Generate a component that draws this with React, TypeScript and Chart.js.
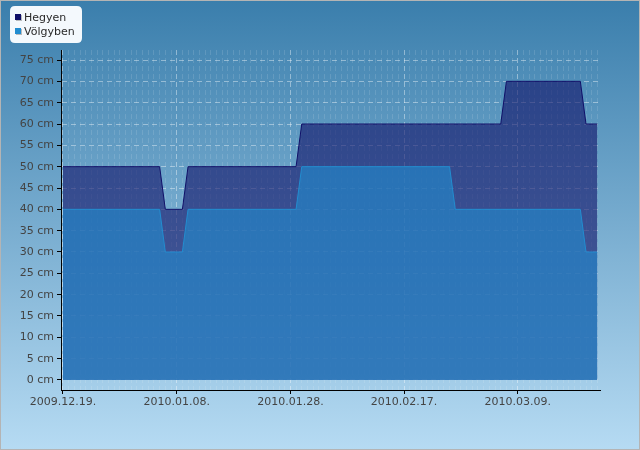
import { useEffect, useRef } from 'react';
import { Chart, registerables } from 'chart.js';

Chart.register(...registerables);

const START_DATE = '2009-12-19';
const seriesNames = ['Hegyen', 'Völgyben'];
const hegyenDates = ['2009-12-19', '2010-01-05', '2010-01-06', '2010-01-09', '2010-01-10', '2010-01-29', '2010-01-30', '2010-03-06', '2010-03-07', '2010-03-20', '2010-03-21', '2010-03-23'];
const hegyenValues = [50, 50, 40, 40, 50, 50, 60, 60, 70, 70, 60, 60];
const volgyDates = ['2009-12-19', '2010-01-05', '2010-01-06', '2010-01-09', '2010-01-10', '2010-01-29', '2010-01-30', '2010-02-25', '2010-02-26', '2010-03-20', '2010-03-21', '2010-03-23'];
const volgyValues = [40, 40, 30, 30, 40, 40, 50, 50, 40, 40, 30, 30];
const xTickLabels = ['2009.12.19.', '2010.01.08.', '2010.01.28.', '2010.02.17.', '2010.03.09.'];
const yTickValues = [0, 5, 10, 15, 20, 25, 30, 35, 40, 45, 50, 55, 60, 65, 70, 75];
const yUnit = 'cm';

const DAY = 86400000;
const dayOf = (d: string) => Math.round((Date.parse(d) - Date.parse(START_DATE)) / DAY);
const labelToDay = (l: string) => dayOf(l.slice(0, 10).replace(/\./g, '-'));
const majorDays = xTickLabels.map(labelToDay);
const lastDay = dayOf(hegyenDates[hegyenDates.length - 1]);

const HEGY_RGB = '16,16,104';
const VOLGY_RGB = '34,141,208';

const bgPlugin = {
  id: 'bgPlugin',
  beforeDraw(chart: any) {
    const { ctx, width, height } = chart;
    ctx.save();
    const g = ctx.createLinearGradient(0, 0, 0, height);
    g.addColorStop(0, '#3a7eac');
    g.addColorStop(1, '#b6dbf3');
    ctx.fillStyle = g;
    ctx.fillRect(0, 0, width, height);
    ctx.strokeStyle = '#b4b4b4';
    ctx.lineWidth = 1;
    ctx.strokeRect(0.5, 0.5, width - 1, height - 1);
    ctx.restore();
  },
  afterDraw(chart: any) {
    const { ctx } = chart;
    ctx.save();
    const x = 10, y = 6, w = 72, h = 37, r = 5;
    ctx.beginPath();
    ctx.moveTo(x + r, y);
    ctx.lineTo(x + w - r, y);
    ctx.quadraticCurveTo(x + w, y, x + w, y + r);
    ctx.lineTo(x + w, y + h - r);
    ctx.quadraticCurveTo(x + w, y + h, x + w - r, y + h);
    ctx.lineTo(x + r, y + h);
    ctx.quadraticCurveTo(x, y + h, x, y + h - r);
    ctx.lineTo(x, y + r);
    ctx.quadraticCurveTo(x, y, x + r, y);
    ctx.closePath();
    ctx.fillStyle = 'rgba(250,253,255,0.97)';
    ctx.fill();
    const colors = [`rgb(${HEGY_RGB})`, `rgb(${VOLGY_RGB})`];
    ctx.font = '11px "DejaVu Sans"';
    ctx.textBaseline = 'alphabetic';
    seriesNames.forEach((name, i) => {
      const my = 14 + i * 14;
      ctx.fillStyle = 'rgba(0,0,0,0.25)';
      ctx.fillRect(16, my + 1, 6, 6);
      ctx.fillStyle = colors[i];
      ctx.fillRect(15, my, 6, 6);
      ctx.fillStyle = '#2a2a2a';
      ctx.fillText(name, 24, my + 7);
    });
    ctx.restore();
  },
};

export default function App() {
  const ref = useRef<HTMLCanvasElement>(null);
  useEffect(() => {
    if (!ref.current) return;
    Chart.defaults.font.family = '"DejaVu Sans", sans-serif';
    Chart.defaults.font.size = 11;
    Chart.defaults.color = '#444';
    const chart = new Chart(ref.current, {
      type: 'line',
      data: {
        datasets: [
          {
            label: seriesNames[0],
            data: hegyenDates.map((d, i) => ({ x: dayOf(d), y: hegyenValues[i] })),
            borderColor: `rgb(${HEGY_RGB})`,
            backgroundColor: `rgba(${HEGY_RGB},0.6)`,
            borderWidth: 1,
            fill: 'origin',
            pointRadius: 0,
            tension: 0,
            order: 1,
          },
          {
            label: seriesNames[1],
            data: volgyDates.map((d, i) => ({ x: dayOf(d), y: volgyValues[i] })),
            borderColor: `rgb(${VOLGY_RGB})`,
            backgroundColor: `rgba(${VOLGY_RGB},0.6)`,
            borderWidth: 1,
            fill: 'origin',
            pointRadius: 0,
            tension: 0,
            order: 0,
          },
        ],
      },
      options: {
        responsive: false,
        animation: false,
        layout: { padding: { top: 50, right: 40, bottom: 0, left: 0 } },
        plugins: { legend: { display: false }, tooltip: { enabled: false } },
        scales: {
          x: {
            type: 'linear',
            min: -0.35,
            max: 94.46,
            afterBuildTicks: (s: any) => {
              const t = [];
              for (let d = 0; d <= lastDay; d++) t.push({ value: d });
              s.ticks = t;
            },
            afterFit: (s: any) => { s.height = 60; },
            ticks: {
              autoSkip: false,
              maxRotation: 0,
              padding: 2,
              color: '#444',
              callback: (v: any) => {
                const idx = majorDays.indexOf(Number(v));
                return idx >= 0 ? xTickLabels[idx] : '';
              },
            },
            grid: {
              color: (c: any) => majorDays.includes(c.tick?.value) ? 'rgba(255,255,255,0.4)' : 'rgba(255,255,255,0.12)',
              tickColor: (c: any) => majorDays.includes(c.tick?.value) ? '#000' : 'rgba(0,0,0,0)',
              tickLength: 4,
              lineWidth: 1,
            },
            border: { color: '#000', width: 1, dash: [5, 3] },
          },
          y: {
            type: 'linear',
            min: -2.344,
            max: 77.344,
            afterBuildTicks: (s: any) => { s.ticks = yTickValues.map((v) => ({ value: v })); },
            afterFit: (s: any) => { s.width = 61; },
            ticks: {
              padding: 3,
              color: '#444',
              callback: (v: any) => `${v} ${yUnit}`,
            },
            grid: {
              color: 'rgba(255,255,255,0.4)',
              tickColor: '#000',
              tickLength: 4,
              lineWidth: 1,
            },
            border: { color: '#000', width: 1, dash: [5, 4] },
          },
        },
      },
      plugins: [bgPlugin],
    } as any);
    return () => chart.destroy();
  }, []);
  return (
    <canvas
      ref={ref}
      width={640}
      height={450}
      style={{ position: 'absolute', left: 0, top: 0, width: 640, height: 450 }}
    />
  );
}
